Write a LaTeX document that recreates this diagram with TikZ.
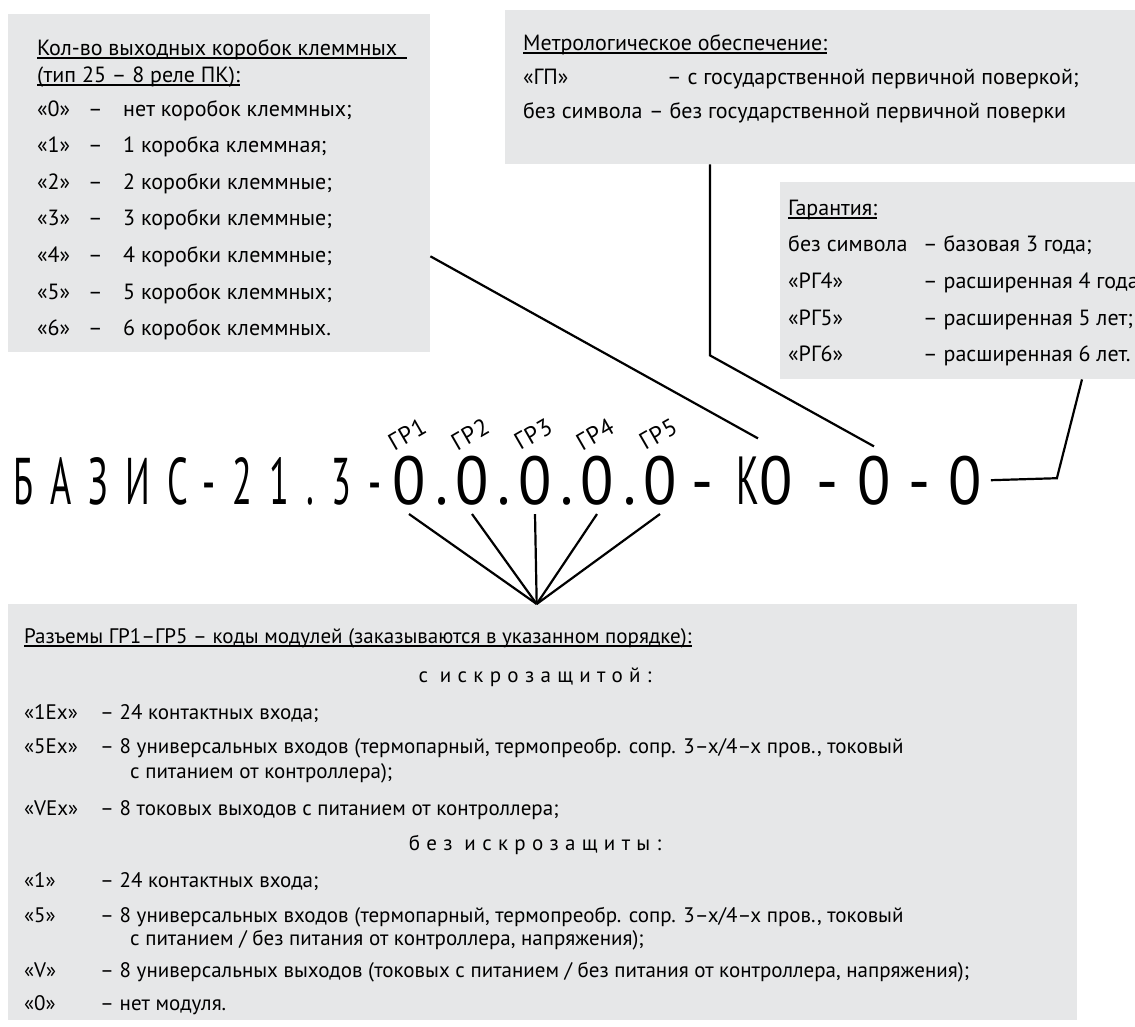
\documentclass[tikz,border=0pt]{standalone}
\usepackage{fontspec}
\setmainfont{PT Sans}
\newfontfamily\codefont{PT Sans}[FakeStretch=0.55, LetterSpace=26]
\newfontfamily\zerofont{PT Sans}[FakeStretch=0.9]
\newfontfamily\widefont{PT Sans}[LetterSpace=30]
\newfontfamily\grfont{PT Sans}[LetterSpace=4]
\usepackage{tikz}
\usetikzlibrary{positioning,calc}
\definecolor{panelgray}{HTML}{E6E7E8}

\begin{document}
\begin{tikzpicture}[x=1pt, y=-1pt,
    panelbox/.style={rectangle, fill=panelgray, inner sep=0pt, anchor=north west},
    bodytext/.style={anchor=base west, inner sep=0pt, font=\fontsize{22}{26}\selectfont},
    lowtext/.style={anchor=base west, inner sep=0pt, font=\fontsize{21}{25}\selectfont},
    spacedhead/.style={anchor=base, inner sep=0pt, font=\widefont\fontsize{21}{25}\selectfont},
    codechar/.style={anchor=base, inner sep=0pt, font=\codefont\fontsize{66}{70}\selectfont},
    zerodigit/.style={anchor=base, inner sep=9pt, font=\zerofont\fontsize{68}{72}\selectfont},
    grlabel/.style={rotate=30, inner sep=0pt, font=\grfont\fontsize{24}{26}\selectfont},
    ulrule/.style={line width=1.4pt},
    leader/.style={draw=black, line width=2.2pt}]

% page frame, the right panels run off the edge
\fill[white] (0,0) rectangle (1135,1026);
\useasboundingbox (0,0) rectangle (1135,1026);
\clip (0,0) rectangle (1135,1026);

% Grey panels
\node[panelbox, minimum width=422pt, minimum height=338pt] (qtybox) at (8,14) {};
\node[panelbox, minimum width=660pt, minimum height=154pt] (metrobox) at (505,10) {};
\node[panelbox, minimum width=380pt, minimum height=197pt] (warrbox) at (780,182) {};
\node[panelbox, minimum width=1069pt, minimum height=416pt] (modbox) at (8,604) {};

% Product code
\node[codechar, anchor=base west] (prefix) at (13,504) {БАЗИС-21.3-};
\foreach \x [count=\i] in {409,472,535,597,660} {
    \node[zerodigit] (g\i) at (\x,504) {0};
    \node[grlabel] (gl\i) at (\x-2,434) {ГР\i};
}
\foreach \x [count=\i] in {442,504,567,630}
    \node[zerodigit, inner sep=0pt] (pt\i) at (\x,504) {.};
\node[zerodigit, inner sep=0pt] (h1) at (703,504) {-};
\node[zerodigit] (ko) at (765,504) {{\codefont К}0};
\node[zerodigit, inner sep=0pt] (h2) at (828,504) {-};
\node[zerodigit] (fld2) at (874,504) {0};
\node[zerodigit, inner sep=0pt] (h3) at (920,504) {-};
\node[zerodigit] (fld3) at (965,504) {0};

% Leaders from the panels to the code
\draw[leader] ($(qtybox.north east)!0.716!(qtybox.south east)$) -- ([xshift=-7pt,yshift=8pt]ko.north);
\draw[leader] ([xshift=205pt]metrobox.south west) -- ++(0,191) -- (fld2.north);
\draw[leader] (fld3.east) -- ++(66,-2) -- ([xshift=302pt]warrbox.south west);
\coordinate (fan) at ([xshift=-6pt]modbox.north);
\foreach \i in {1,...,5}
    \draw[leader] (g\i.south) -- (fan);

% Terminal boxes panel
\node[bodytext] (qhead1) at (37,55) {Кол-во выходных коробок клеммных};
\node[bodytext] (qhead2) at (37,82) {(тип 25 – 8 реле ПК):};
\draw[ulrule] ([yshift=-3pt]qhead1.base west) -- ([xshift=10pt,yshift=-3pt]qhead1.base east);
\draw[ulrule] ([yshift=-3pt]qhead2.base west) -- ([yshift=-3pt]qhead2.base east);
\foreach \lab/\desc [count=\i from 0] in {{«0»}/{нет коробок клеммных;}, {«1»}/{1 коробка клеммная;},
        {«2»}/{2 коробки клеммные;}, {«3»}/{3 коробки клеммные;}, {«4»}/{4 коробки клеммные;},
        {«5»}/{5 коробок клеммных;}, {«6»}/{6 коробок клеммных.}} {
    \node[bodytext] (qk\i) at (37,116+36.6*\i) {\lab};
    \node[bodytext] (qd\i) at (88,116+36.6*\i) {–};
    \node[bodytext] (qt\i) at (123,116+36.6*\i) {\desc};
}

% Metrology panel
\node[bodytext] (mhead) at (523,50) {Метрологическое обеспечение:};
\draw[ulrule] ([yshift=-3pt]mhead.base west) -- ([yshift=-3pt]mhead.base east);
\node[bodytext] (mk1) at (523,84) {«ГП»};
\node[bodytext] (md1) at (667,84) {– с государственной первичной поверкой;};
\node[bodytext] (mk2) at (523,118) {без символа};
\node[bodytext] (md2) at (649,118) {– без государственной первичной поверки};

% Warranty panel
\node[bodytext] (whead) at (788,215) {Гарантия:};
\draw[ulrule] ([yshift=-3pt]whead.base west) -- ([yshift=-3pt]whead.base east);
\node[bodytext] (wk1) at (788,251) {без символа};
\node[bodytext] (wd1) at (923,251) {– базовая 3 года;};
\node[bodytext] (wk2) at (788,288) {«РГ4»};
\node[bodytext] (wd2) at (923,288) {– расширенная 4 года;};
\node[bodytext] (wk3) at (788,325) {«РГ5»};
\node[bodytext] (wd3) at (923,325) {– расширенная 5 лет;};
\node[bodytext] (wk4) at (788,361) {«РГ6»};
\node[bodytext] (wd4) at (923,361) {– расширенная 6 лет.};

% Module codes panel
\node[lowtext] (mdhead) at (24,643) {Разъемы ГР1–ГР5 – коды модулей (заказываются в указанном порядке):};
\draw[ulrule] ([yshift=-3pt]mdhead.base west) -- ([yshift=-3pt]mdhead.base east);
\node[spacedhead] (exhead) at (535,682) {с искрозащитой:};
\node[lowtext] (ek1) at (24,719) {«1Ex»};
\node[lowtext] (ed1) at (100,719) {– 24 контактных входа;};
\node[lowtext] (ek2) at (24,753) {«5Ex»};
\node[lowtext] (ed2) at (100,753) {– 8 универсальных входов (термопарный, термопреобр. сопр. 3–х/4–х пров., токовый};
\node[lowtext] (ed2b) at (130,778) {с питанием от контроллера);};
\node[lowtext] (ek3) at (24,815) {«VEx»};
\node[lowtext] (ed3) at (100,815) {– 8 токовых выходов с питанием от контроллера;};
\node[spacedhead] (nohead) at (535,850) {без искрозащиты:};
\node[lowtext] (nk1) at (24,887) {«1»};
\node[lowtext] (nd1) at (100,887) {– 24 контактных входа;};
\node[lowtext] (nk2) at (24,922) {«5»};
\node[lowtext] (nd2) at (100,922) {– 8 универсальных входов (термопарный, термопреобр. сопр. 3–х/4–х пров., токовый};
\node[lowtext] (nd2b) at (130,945) {с питанием / без питания от контроллера, напряжения);};
\node[lowtext] (nk3) at (24,977) {«V»};
\node[lowtext] (nd3) at (100,977) {– 8 универсальных выходов (токовых с питанием / без питания от контроллера, напряжения);};
\node[lowtext] (nk4) at (24,1010) {«0»};
\node[lowtext] (nd4) at (100,1010) {– нет модуля.};

\end{tikzpicture}
\end{document}
